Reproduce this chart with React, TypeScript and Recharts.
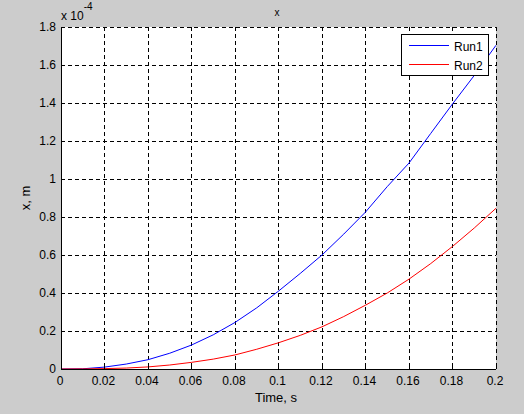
import { LineChart, Line, XAxis, YAxis, CartesianGrid } from "recharts";

const TIME = [0, 0.01, 0.02, 0.03, 0.04, 0.05, 0.06, 0.07, 0.08, 0.09, 0.1, 0.11, 0.12, 0.13, 0.14, 0.15, 0.16, 0.17, 0.18, 0.19, 0.2];
// values in units of 1e-4 m
const RUN1 = [0, 0.001, 0.01, 0.026, 0.049, 0.083, 0.126, 0.18, 0.245, 0.322, 0.41, 0.503, 0.6, 0.71, 0.826, 0.96, 1.084, 1.24, 1.395, 1.545, 1.704];
const RUN2 = [0, 0.0005, 0.002, 0.005, 0.011, 0.021, 0.035, 0.052, 0.074, 0.104, 0.138, 0.177, 0.222, 0.276, 0.336, 0.4, 0.473, 0.555, 0.645, 0.742, 0.846];

const X_TICKS = [0, 0.02, 0.04, 0.06, 0.08, 0.1, 0.12, 0.14, 0.16, 0.18, 0.2];
const X_LABELS = ["0", "0.02", "0.04", "0.06", "0.08", "0.1", "0.12", "0.14", "0.16", "0.18", "0.2"];
const Y_TICKS = [0, 0.2, 0.4, 0.6, 0.8, 1, 1.2, 1.4, 1.6, 1.8];
const Y_LABELS = ["0", "0.2", "0.4", "0.6", "0.8", "1", "1.2", "1.4", "1.6", "1.8"];

const SERIES = [
  { key: "run1", name: "Run1", color: "#0000ff" },
  { key: "run2", name: "Run2", color: "#ff0000" },
];

const data = TIME.map((t, i) => ({ t, run1: RUN1[i], run2: RUN2[i] }));

const FONT = '"Liberation Sans", Arial, Helvetica, sans-serif';
const TICK_LEN = 4;
const AXIS_LINE = { stroke: "#000", shapeRendering: "crispEdges" };

function BottomTick({ x, y, index }: any) {
  return (
    <g>
      <line x1={x} x2={x} y1={y} y2={y - TICK_LEN} stroke="#000" shapeRendering="crispEdges" />
      <text x={x - 1} y={y + 16} textAnchor="middle" fontSize={12} fontFamily={FONT} fill="#000">
        {X_LABELS[index]}
      </text>
    </g>
  );
}

function TopTick({ x, y }: any) {
  return <line x1={x} x2={x} y1={y} y2={y + TICK_LEN} stroke="#000" shapeRendering="crispEdges" />;
}

function LeftTick({ x, y, index }: any) {
  return (
    <g>
      <line x1={x} x2={x + TICK_LEN} y1={y} y2={y} stroke="#000" shapeRendering="crispEdges" />
      <text x={x - 5} y={y + 4} textAnchor="end" fontSize={12} fontFamily={FONT} fill="#000">
        {Y_LABELS[index]}
      </text>
    </g>
  );
}

function RightTick({ x, y }: any) {
  return <line x1={x} x2={x - TICK_LEN} y1={y} y2={y} stroke="#000" shapeRendering="crispEdges" />;
}

// legend box, top-right inside the axes
function LegendBox({ left, top }: { left: number; top: number }) {
  return (
    <g transform={`translate(${left},${top})`}>
      <rect x={0.5} y={0.5} width={87} height={41} fill="#fff" stroke="#000" shapeRendering="crispEdges" />
      {SERIES.map((s, i) => (
        <g key={s.key}>
          <line
            x1={8}
            x2={48}
            y1={11.5 + i * 19}
            y2={11.5 + i * 19}
            stroke={s.color}
            shapeRendering="crispEdges"
          />
          <text x={53} y={16.5 + i * 19} fontSize={12} fontFamily={FONT} fill="#000">
            {s.name}
          </text>
        </g>
      ))}
    </g>
  );
}

export default function App() {
  return (
    <div style={{ position: "absolute", left: 0, top: 0, width: 524, height: 414, background: "#cccccc" }}>
      <LineChart width={524} height={414} data={data} margin={{ top: 27, right: 28, bottom: 0, left: 0 }}>
        <CartesianGrid fill="#ffffff" stroke="#000" strokeDasharray="4 3" shapeRendering="crispEdges" />
        <XAxis
          dataKey="t"
          type="number"
          domain={[0, 0.2]}
          ticks={X_TICKS}
          interval={0}
          height={45}
          tickSize={0}
          tickMargin={0}
          tickLine={false}
          axisLine={AXIS_LINE}
          tick={<BottomTick />}
          allowDataOverflow
        />
        <XAxis
          xAxisId="top"
          orientation="top"
          dataKey="t"
          type="number"
          domain={[0, 0.2]}
          ticks={X_TICKS}
          interval={0}
          height={0}
          tickSize={0}
          tickMargin={0}
          tickLine={false}
          axisLine={AXIS_LINE}
          tick={<TopTick />}
          allowDataOverflow
        />
        <YAxis
          type="number"
          domain={[0, 1.8]}
          ticks={Y_TICKS}
          interval={0}
          width={61}
          tickSize={0}
          tickMargin={0}
          tickLine={false}
          axisLine={AXIS_LINE}
          tick={<LeftTick />}
          allowDataOverflow
        />
        <YAxis
          yAxisId="right"
          orientation="right"
          type="number"
          domain={[0, 1.8]}
          ticks={Y_TICKS}
          interval={0}
          width={0}
          tickSize={0}
          tickMargin={0}
          tickLine={false}
          axisLine={AXIS_LINE}
          tick={<RightTick />}
          allowDataOverflow
        />
        {SERIES.map((s) => (
          <Line
            key={s.key}
            type="linear"
            dataKey={s.key}
            name={s.name}
            stroke={s.color}
            strokeWidth={1}
            dot={false}
            activeDot={false}
            isAnimationActive={false}
          />
        ))}
      </LineChart>
      <svg
        width={524}
        height={414}
        style={{ position: "absolute", left: 0, top: 0, pointerEvents: "none" }}
      >
        <LegendBox left={401} top={34} />
        <text x={277} y={16} textAnchor="middle" fontSize={10} fontFamily={FONT} fill="#000">
          x
        </text>
        <text x={61} y={20} fontSize={12} fontFamily={FONT} fill="#000">
          x 10
          <tspan fontSize={10} dy={-10}>
            -4
          </tspan>
        </text>
        <text x={276} y={402} textAnchor="middle" fontSize={13} fontFamily={FONT} fill="#000">
          Time, s
        </text>
        <text
          transform="translate(30,198) rotate(-90)"
          textAnchor="middle"
          fontSize={13}
          fontFamily={FONT}
          fill="#000"
        >
          x, m
        </text>
      </svg>
    </div>
  );
}
